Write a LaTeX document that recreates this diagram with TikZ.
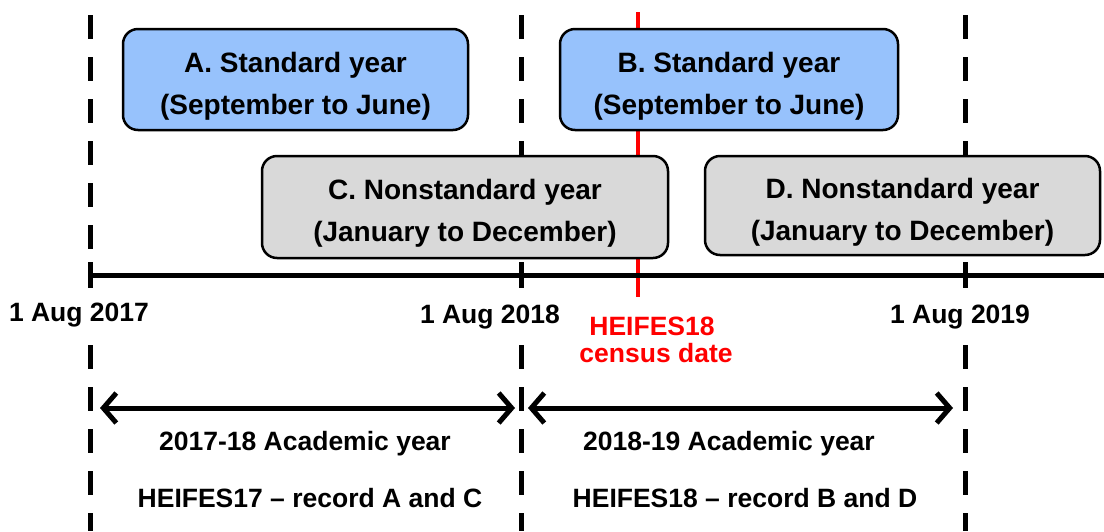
\documentclass[tikz,border=0pt]{standalone}
\usepackage{fontspec}
\setmainfont{Liberation Sans}
\usetikzlibrary{arrows.meta}
\definecolor{boxblue}{RGB}{151,194,252}
\definecolor{boxgrey}{RGB}{217,217,217}
\newcommand{\boxstrut}{\rule{0pt}{33pt}}
\begin{document}
\begin{tikzpicture}[x=1pt,y=-1pt,
  yearbox/.style={draw=black,line width=2.5pt,rounded corners=15pt,align=center,inner sep=0pt,
    font=\fontsize{28}{42}\selectfont\bfseries},
  dashline/.style={line width=5pt,dash pattern=on 24pt off 18pt},
  tickline/.style={line width=5pt},
  lbl/.style={font=\fontsize{26.5}{30}\selectfont\bfseries,anchor=base,inner sep=0pt},
  redlbl/.style={lbl,text=red},
  span/.style={line width=5pt,{Straight Barb[length=13pt,width=30pt,line width=5pt]}-{Straight Barb[length=13pt,width=30pt,line width=5pt]}}
]
\useasboundingbox (0,0) rectangle (1104,531);
% vertical date lines
\coordinate (d1top) at (90,15);   \coordinate (d1mid) at (90,262);
\coordinate (d2top) at (521,15);  \coordinate (d2mid) at (521,262);
\coordinate (d3top) at (965,15);  \coordinate (d3mid) at (965,262);
\coordinate (d1t) at (90,288); \coordinate (d2t) at (521,288); \coordinate (d3t) at (965,288);
\coordinate (d1low) at (90,345); \coordinate (d1bot) at (90,531);
\coordinate (d2low) at (521,345); \coordinate (d2bot) at (521,531);
\coordinate (d3low) at (965,345); \coordinate (d3bot) at (965,531);
\draw[dashline] (d1top) -- (d1mid);
\draw[dashline] (d2top) -- (d2mid);
\draw[dashline] (d3top) -- (d3mid);
\draw[dashline] (d1low) -- (d1bot);
\draw[dashline] (d2low) -- (d2bot);
\draw[dashline] (d3low) -- (d3bot);
\draw[tickline] (d1mid) -- (d1t);
\draw[tickline] (d2mid) -- (d2t);
\draw[tickline] (d3mid) -- (d3t);
% census line
\coordinate (ctop) at (638,12); \coordinate (cbot) at (638,297);
\draw[red,line width=4pt] (ctop) -- (cbot);
% axis
\coordinate (axl) at (88,275); \coordinate (axr) at (1104,275);
\draw[line width=5pt] (axl) -- (axr);
% boxes
\node[yearbox,fill=boxblue,minimum width=345pt,minimum height=101pt] (A) at (295.5,79.5)
  {\boxstrut A. Standard year\\(September to June)};
\node[yearbox,fill=boxblue,minimum width=338pt,minimum height=101pt] (B) at (729,79.5)
  {\boxstrut B. Standard year\\(September to June)};
\node[yearbox,fill=boxgrey,minimum width=406pt,minimum height=102pt] (C) at (465,207)
  {\boxstrut C. Nonstandard year\\(January to December)};
\node[yearbox,fill=boxgrey,minimum width=395pt,minimum height=99pt] (D) at (902.5,205.5)
  {\boxstrut D. Nonstandard year\\(January to December)};
% date labels
\node[lbl] (l1) at (79,321) {1 Aug 2017};
\node[lbl] (l2) at (490,323) {1 Aug 2018};
\node[lbl] (l3) at (960,323) {1 Aug 2019};
\node[redlbl] (c1) at (652,335) {HEIFES18};
\node[redlbl] (c2) at (656,362) {census date};
% academic year spans
\coordinate (a1l) at (100,408); \coordinate (a1r) at (515,408);
\coordinate (a2l) at (528,408); \coordinate (a2r) at (953,408);
\draw[span] (a1l) -- (a1r);
\draw[span] (a2l) -- (a2r);
\node[lbl] (y1) at (305,450) {2017-18 Academic year};
\node[lbl] (y2) at (729,450) {2018-19 Academic year};
\node[lbl] (r1) at (310,507) {HEIFES17 -- record A and C};
\node[lbl] (r2) at (745,507) {HEIFES18 -- record B and D};
\end{tikzpicture}
\end{document}
